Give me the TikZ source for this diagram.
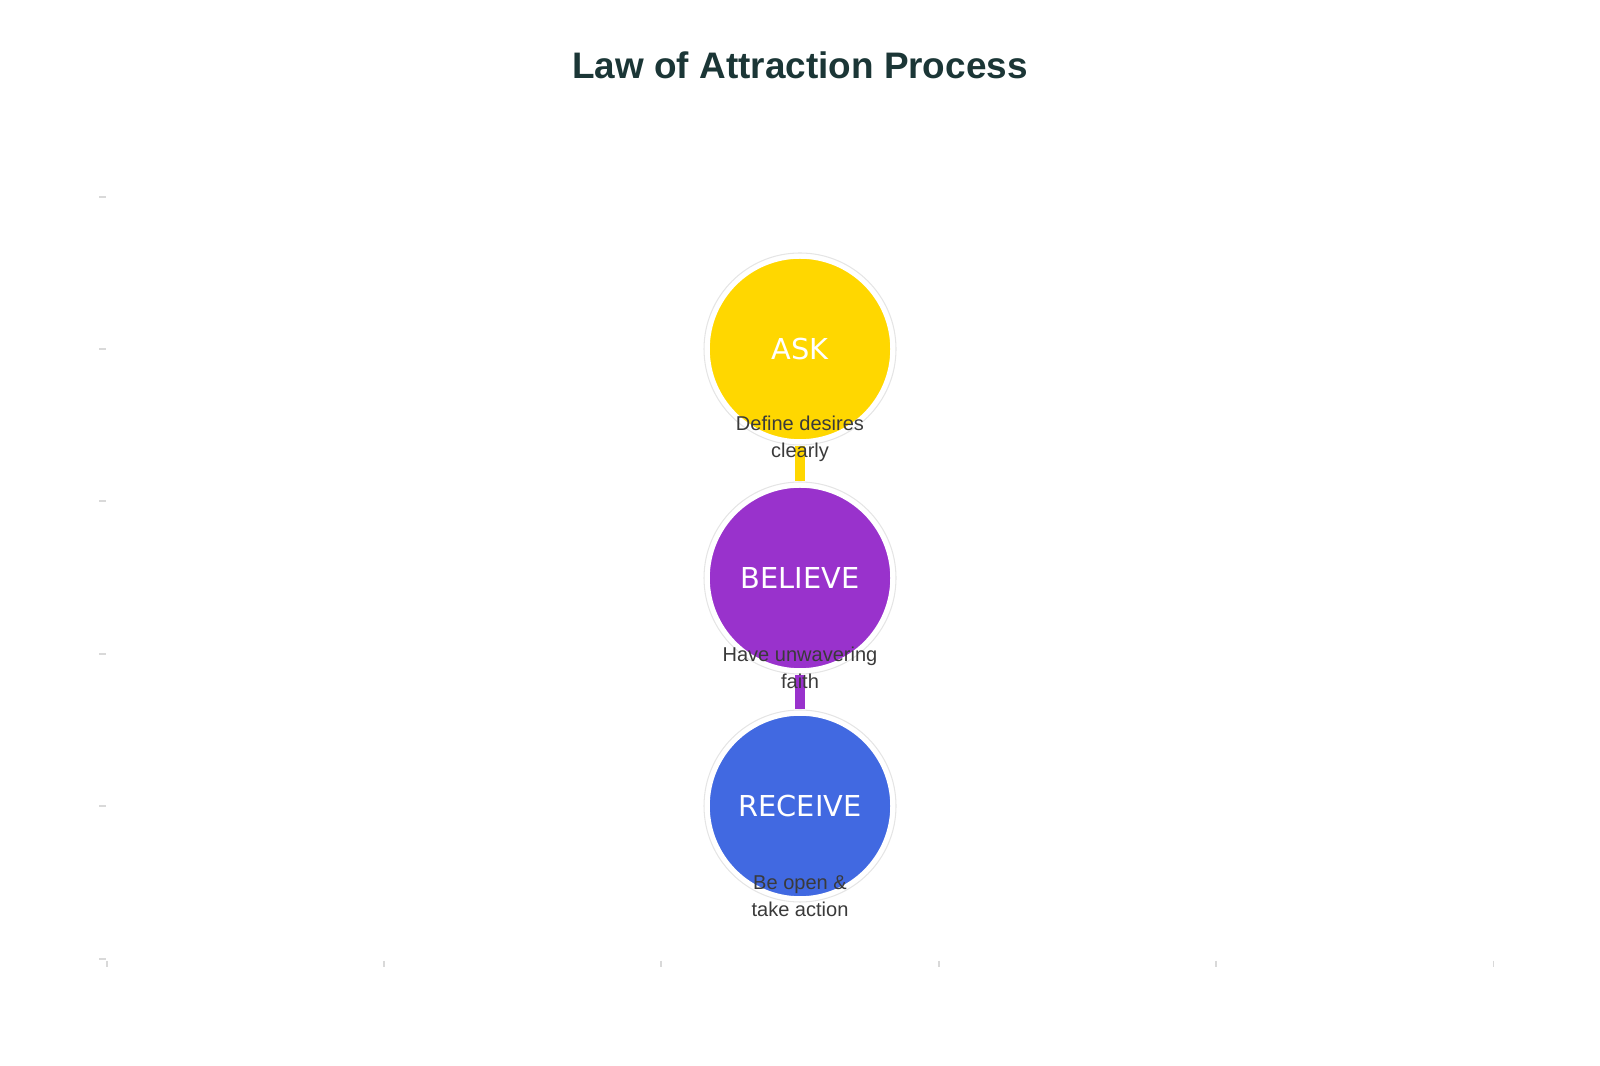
\documentclass[tikz,border=0pt]{standalone}
\usepackage{fontspec}
\setmainfont{Liberation Sans}
\newfontfamily\stepfont{DejaVu Sans}
\definecolor{askcol}{HTML}{FFD700}
\definecolor{belcol}{HTML}{9932CC}
\definecolor{reccol}{HTML}{4169E1}
\definecolor{titlecol}{HTML}{1B3636}
\definecolor{labcol}{HTML}{3A3A3A}
\tikzset{
  stage/.style = {circle, minimum size = 1.84cm, inner sep = 0pt, draw = white, line width = 1pt,
    text = white, font = \stepfont\fontsize{8.2}{10}\selectfont},
  ring/.style = {circle, minimum size = 1.92cm, draw = gray!20, line width = 0.3pt},
  note/.style = {align = center, text = labcol, font = \fontsize{5.7}{7.8}\selectfont},
  bar/.style = {line width = 2.8pt},
  axtick/.style = {gray!30, line width = 0.3pt}
}
\begin{document}
\begin{tikzpicture}
	\useasboundingbox (0, 0) rectangle (16, 10.66);

	\node [font = \bfseries\fontsize{10.5}{12}\selectfont, text = titlecol] (T) at (8, 10.01) {Law of Attraction Process};

	% axis ticks
	\foreach \y in {1.07, 2.60, 4.12, 5.65, 7.17, 8.69}
		\draw [axtick] (0.99, \y) -- (1.06, \y);
	\foreach \x in {1.07, 3.84, 6.61, 9.39, 12.16, 14.93}
		\draw [axtick] (\x, 1.05) -- (\x, 0.99);

	\coordinate (a) at (8, 7.17);
	\coordinate (b) at (8, 4.88);
	\coordinate (c) at (8, 2.60);

	\node [ring] (Ar) at (a) {};
	\node [ring] (Br) at (b) {};
	\node [ring] (Cr) at (c) {};

	\draw [bar, askcol] (Ar.south) -- (Br.north);
	\draw [bar, belcol] (Br.south) -- (Cr.north);

	\node [stage, fill = askcol] (A) at (a) {ASK};
	\node [stage, fill = belcol] (B) at (b) {BELIEVE};
	\node [stage, fill = reccol] (C) at (c) {RECEIVE};

	\node [note] (An) at (8, 6.27) {Define desires\\clearly};
	\node [note] (Bn) at (8, 3.98) {Have unwavering\\faith};
	\node [note] (Cn) at (8, 1.70) {Be open \&\\take action};
\end{tikzpicture}
\end{document}
